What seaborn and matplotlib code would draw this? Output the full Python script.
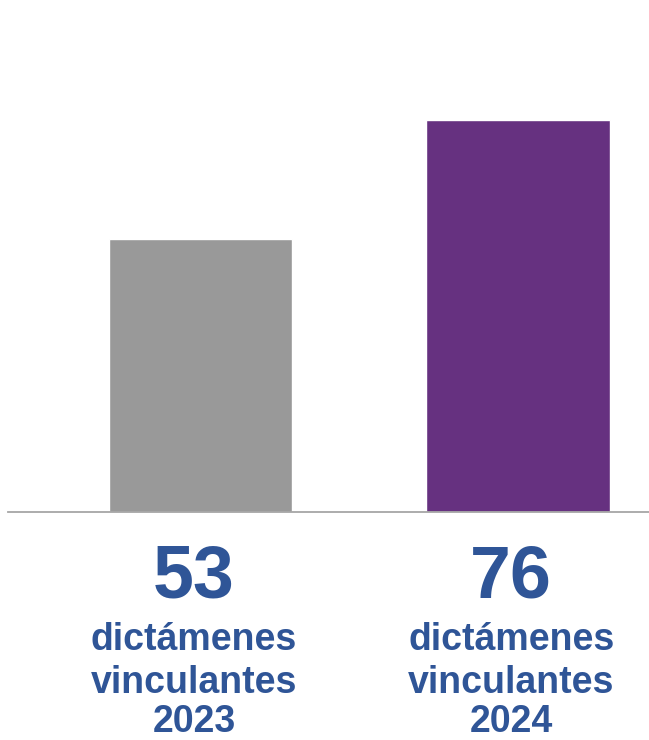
import matplotlib
matplotlib.use("Agg")
import matplotlib.pyplot as plt
import matplotlib.transforms as mtransforms
import pandas as pd
import seaborn as sns

# Data
years = ["2023", "2024"]
counts = [53, 76]
caption_lines = ["dictámenes", "vinculantes"]
bar_colors = ["#999999", "#663180"]
text_color = "#2F5597"

W, H = 649, 740
DPI = 100

sns.set_theme(style="white")
plt.rcParams["font.family"] = ["Liberation Sans", "DejaVu Sans"]

df = pd.DataFrame({"year": years, "count": counts})

fig = plt.figure(figsize=(W / DPI, H / DPI), dpi=DPI)
base_px = 511.5
ax = fig.add_axes([8 / W, (H - base_px) / H, 1 - 8 / W, base_px / H])

sns.barplot(data=df, x="year", y="count", hue="year", palette=bar_colors,
            order=years, width=0.578, legend=False, ax=ax, saturation=1)

ax.set_xlim(-0.607, 1.413)
ax.set_ylim(0, 99.4)
ax.set_xlabel("")
ax.set_ylabel("")
ax.set_xticks([])
ax.set_yticks([])
for side in ["left", "right", "top"]:
    ax.spines[side].set_visible(False)
ax.spines["bottom"].set_color("#A6A6A6")
ax.spines["bottom"].set_linewidth(1.3)

# Labels under each bar: big number, then the caption and the year
trans = mtransforms.blended_transform_factory(ax.transData, fig.transFigure)
for i, (yr, val) in enumerate(zip(years, counts)):
    x = i - 0.021
    ax.text(x, 1 - 597 / H, f"{val}", transform=trans, ha="center",
            va="baseline", fontsize=53, fontweight="bold", color=text_color,
            clip_on=False)
    lines = caption_lines + [yr]
    baselines = [650, 693, 732]
    for txt, bpx in zip(lines, baselines):
        ax.text(x, 1 - bpx / H, txt, transform=trans, ha="center",
                va="baseline", fontsize=27, fontweight="bold",
                color=text_color, clip_on=False)

fig.savefig("out.png", dpi=DPI)
